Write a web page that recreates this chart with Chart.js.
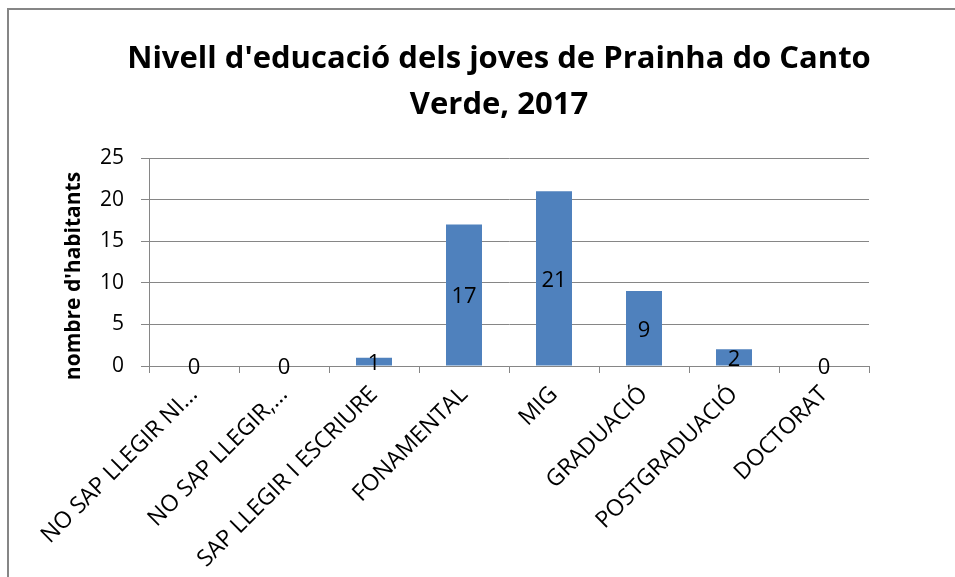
<!DOCTYPE html>
<html>
<head>
<meta charset="utf-8">
<script src="https://cdn.jsdelivr.net/npm/chart.js@4/dist/chart.umd.min.js"></script>
<style>
  html, body { margin: 0; padding: 0; background: #fff; overflow: hidden; }
  #frame {
    position: absolute; left: 7px; top: 8px;
    width: 980px; height: 600px;
    border: 2px solid #868686; background: #fff;
  }
  #frame canvas { display: block; }
</style>
</head>
<body>
<div id="frame"><canvas id="chart" width="980" height="600"></canvas></div>
<script>
const categories = ['NO SAP LLEGIR NI...', 'NO SAP LLEGIR,...', 'SAP LLEGIR I ESCRIURE', 'FONAMENTAL', 'MIG', 'GRADUACIÓ', 'POSTGRADUACIÓ', 'DOCTORAT'];
const habitants = [0, 0, 1, 17, 21, 9, 2, 0];
const yTicks = [0, 5, 10, 15, 20, 25];

const titleLines = ["Nivell d'educació dels joves de Prainha do Canto", 'Verde, 2017'];
const yTitle = "nombre d'habitants";

const FONT = '"Open Sans", Lato, sans-serif';
const GRID = '#868686';

// value labels in the middle of each bar
const barLabels = {
    id: 'barLabels',
    afterDatasetsDraw(chart) {
        const ctx = chart.ctx;
        const meta = chart.getDatasetMeta(0);
        ctx.save();
        ctx.font = '22px ' + FONT;
        ctx.fillStyle = '#000';
        ctx.textAlign = 'center';
        ctx.textBaseline = 'middle';
        meta.data.forEach((bar, i) => {
            const y = (bar.y + bar.base) / 2 + 2;
            ctx.fillText(String(habitants[i]), bar.x, y);
        });
        ctx.restore();
    }
};

// chart title centred on the whole frame, and the y axis title
const titles = {
    id: 'titles',
    afterDraw(chart) {
        const ctx = chart.ctx;
        ctx.save();
        ctx.fillStyle = '#000';
        ctx.textAlign = 'center';
        ctx.textBaseline = 'alphabetic';
        ctx.font = 'bold 31px ' + FONT;
        ctx.fillText(titleLines[0], 490, 58);
        ctx.fillText(titleLines[1], 490, 104);

        ctx.translate(65, 266);
        ctx.rotate(-Math.PI / 2);
        ctx.font = 'bold 21px ' + FONT;
        ctx.textBaseline = 'middle';
        ctx.fillText(yTitle, 0, 0);
        ctx.restore();
    }
};

new Chart(document.getElementById('chart'), {
    type: 'bar',
    data: {
        labels: categories,
        datasets: [{
            data: habitants,
            backgroundColor: '#4F81BD',
            barPercentage: 0.4,
            categoryPercentage: 1.0
        }]
    },
    options: {
        responsive: false,
        animation: false,
        layout: { padding: { left: 0, right: 120, top: 148, bottom: 0 } },
        plugins: {
            legend: { display: false },
            tooltip: { enabled: false },
            title: { display: false }
        },
        scales: {
            x: {
                offset: true,
                grid: {
                    offset: true,
                    drawOnChartArea: false,
                    drawTicks: true,
                    tickLength: 7,
                    color: GRID
                },
                border: { color: GRID, width: 1 },
                ticks: {
                    color: '#000',
                    font: { family: FONT, size: 23 },
                    minRotation: 45,
                    maxRotation: 45,
                    autoSkip: false,
                    padding: 8
                },
                afterFit(scale) { scale.height = 244; }
            },
            y: {
                min: 0,
                max: 25,
                afterBuildTicks(scale) { scale.ticks = yTicks.map(v => ({ value: v })); },
                grid: {
                    color: GRID,
                    drawTicks: true,
                    tickLength: 8
                },
                border: { color: GRID, width: 1 },
                ticks: {
                    color: '#000',
                    font: { family: FONT, size: 21 },
                    padding: 17
                },
                afterFit(scale) { scale.width = 140; }
            }
        }
    },
    plugins: [barLabels, titles]
});
</script>
</body>
</html>
